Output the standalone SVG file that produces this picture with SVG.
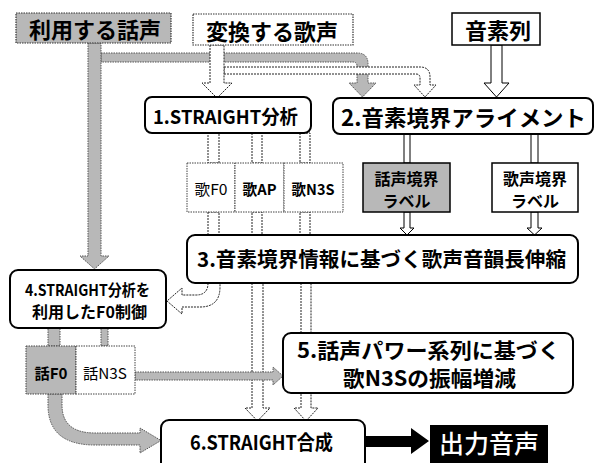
<svg xmlns="http://www.w3.org/2000/svg" width="598" height="463" viewBox="0 0 598 463">
<style>
text{font-family:"Noto Sans CJK JP","Liberation Sans",sans-serif;font-weight:700;fill:#000;text-anchor:middle;dominant-baseline:central}
.proc{fill:#fff;stroke:#000;stroke-width:2}
.src{stroke:#333;stroke-width:1.2;stroke-dasharray:1.5 1}
.gray{fill:#b8b8b8}
.white{fill:#fff}
.data{stroke:#444;stroke-width:1;stroke-dasharray:1.5 1}
.garrow{fill:#b8b8b8;stroke:#555;stroke-width:1;stroke-dasharray:1.5 1}
.warrow{fill:#fff;stroke:#222;stroke-width:1;stroke-dasharray:2 1}
.solid{stroke:#000;stroke-dasharray:none}
.n{font-weight:400}
</style>
<rect width="598" height="463" fill="#fff"/>
<g id="connectors">
<path class="garrow" d="M101,53 H357 Q368,53 368,64 V83 H376 L362.5,97 L349,83 H357 V66 Q357,62 353,62 H101 Z"/>
<path class="garrow" d="M88,43 V256 H80 L94.5,269 L109,256 H101 V43 Z"/>
<path class="warrow" d="M224,67 H420 Q430,67 430,77 V85 H436 L425,97 L414,85 H420 V78 Q420,74 416,74 H224 Z"/>
<path class="warrow" d="M210,45 V83 H202 L217,98 L232,83 H224 V45 Z"/>
<path class="warrow solid" d="M491,45 V83 H484 L496.5,97 L509,83 H502 V45 Z"/>
<rect class="warrow" x="208" y="133" width="11" height="30"/>
<rect class="warrow" x="252" y="133" width="10" height="30"/>
<rect class="warrow" x="300" y="133" width="10" height="30"/>
<rect class="warrow" x="208" y="212" width="11" height="23"/>
<rect class="warrow" x="252" y="212" width="10" height="23"/>
<rect class="warrow" x="300" y="212" width="10" height="23"/>
<rect class="warrow solid" x="404" y="134" width="6" height="29"/>
<rect class="warrow solid" x="531" y="134" width="7" height="29"/>
<path class="warrow solid" d="M404,212 V228 H400 L407,235 L414,228 H410 V212 Z"/>
<path class="warrow solid" d="M531,212 V228 H527 L534.5,235 L542,228 H538 V212 Z"/>
<path class="warrow" d="M208,283 Q208,295 196,295 H182 V288 L167,301 L182,314 V307 H200 Q220,307 220,287 V283 Z"/>
<path class="warrow" d="M252,283 V408 H245 L257.5,421 L270,408 H263 V283 Z"/>
<path class="warrow" d="M301,283 V408 H294 L306,421 L318,408 H311 V283 Z"/>
<rect class="garrow" x="48" y="328" width="12" height="18"/>
<rect class="garrow" x="101" y="328" width="7" height="18"/>
<path class="garrow" d="M135,372 H273 V367 L283,376 L273,385 V380 H135 Z"/>
<path class="garrow" d="M48,394 V405 Q48,445 95,445 H140 V453 L161,440.5 L140,428 V433 H95 Q62,433 62,405 V394 Z"/>
<path fill="#000" d="M365,436 H411 V428 L429,441 L411,454 V447 H365 Z"/>
</g>
<g id="n-speech">
<rect class="src gray" x="16" y="13" width="155" height="30"/>
<text x="95" y="28" font-size="22">利用する話声</text>
</g>
<g id="n-singing">
<rect class="src white" x="193" y="14" width="160" height="31"/>
<text x="272" y="29.5" font-size="22">変換する歌声</text>
</g>
<g id="n-phoneme">
<rect fill="#fff" stroke="#000" stroke-width="1.5" x="452" y="13" width="88" height="32"/>
<text x="498" y="29" font-size="22">音素列</text>
</g>
<g id="n-box1">
<rect class="proc" x="145" y="97" width="166" height="36" rx="7"/>
<text x="225.5" y="115" font-size="19" textLength="145" lengthAdjust="spacingAndGlyphs">1.STRAIGHT分析</text>
</g>
<g id="n-box2">
<rect class="proc" x="333" y="98" width="260" height="36" rx="7"/>
<text x="463.5" y="116" font-size="22" textLength="245" lengthAdjust="spacingAndGlyphs">2.音素境界アライメント</text>
</g>
<g id="n-utaF0">
<rect class="data" fill="#fff" x="187" y="163" width="48" height="49"/>
<text class="n" x="211" y="188" font-size="15" textLength="33" lengthAdjust="spacingAndGlyphs">歌F0</text>
</g>
<g id="n-utaAP">
<rect class="data" fill="#fff" x="235" y="163" width="49" height="49"/>
<text x="259.5" y="188" font-size="15" textLength="34" lengthAdjust="spacingAndGlyphs">歌AP</text>
</g>
<g id="n-utaN3S">
<rect class="data" fill="#fff" x="284" y="163" width="59" height="49"/>
<text x="313" y="188" font-size="15" textLength="43" lengthAdjust="spacingAndGlyphs">歌N3S</text>
</g>
<g id="n-speechlabel">
<rect fill="#b8b8b8" stroke="#000" stroke-width="1.5" x="363" y="163" width="87" height="49"/>
<text x="406.5" y="178" font-size="16">話声境界</text>
<text x="406.5" y="200" font-size="16">ラベル</text>
</g>
<g id="n-singlabel">
<rect fill="#fff" stroke="#000" stroke-width="1.5" x="492" y="163" width="86" height="49"/>
<text x="535" y="178" font-size="16">歌声境界</text>
<text x="535" y="200" font-size="16">ラベル</text>
</g>
<g id="n-box3">
<rect class="proc" x="187" y="235" width="391" height="48" rx="8"/>
<text x="381.5" y="258" font-size="20.5" textLength="369" lengthAdjust="spacingAndGlyphs">3.音素境界情報に基づく歌声音韻長伸縮</text>
</g>
<g id="n-box4">
<rect class="proc" x="10" y="270" width="156" height="58" rx="8"/>
<text x="87.5" y="289" font-size="16" textLength="125" lengthAdjust="spacingAndGlyphs">4.STRAIGHT分析を</text>
<text x="89.5" y="311" font-size="16" textLength="115" lengthAdjust="spacingAndGlyphs">利用したF0制御</text>
</g>
<g id="n-hanaF0">
<rect class="data" fill="#b8b8b8" x="26" y="346" width="50" height="48"/>
<text x="51" y="372" font-size="15" textLength="33" lengthAdjust="spacingAndGlyphs">話F0</text>
</g>
<g id="n-hanaN3S">
<rect class="data" fill="#fff" x="76" y="346" width="59" height="48"/>
<text class="n" x="105" y="372" font-size="15" textLength="44" lengthAdjust="spacingAndGlyphs">話N3S</text>
</g>
<g id="n-box5">
<rect class="proc" x="283" y="333" width="290" height="60" rx="8"/>
<text x="428.5" y="349" font-size="21" textLength="263" lengthAdjust="spacingAndGlyphs">5.話声パワー系列に基づく</text>
<text x="429.5" y="377" font-size="21" textLength="173" lengthAdjust="spacingAndGlyphs">歌N3Sの振幅増減</text>
</g>
<g id="n-box6">
<rect class="proc" x="161" y="420" width="204" height="55" rx="8"/>
<text x="261.5" y="441" font-size="20" textLength="143" lengthAdjust="spacingAndGlyphs">6.STRAIGHT合成</text>
</g>
<g id="n-output">
<rect fill="#000" x="430" y="425" width="118" height="45"/>
<text x="489" y="442" font-size="25" style="fill:#fff;font-weight:500">出力音声</text>
</g>
</svg>
